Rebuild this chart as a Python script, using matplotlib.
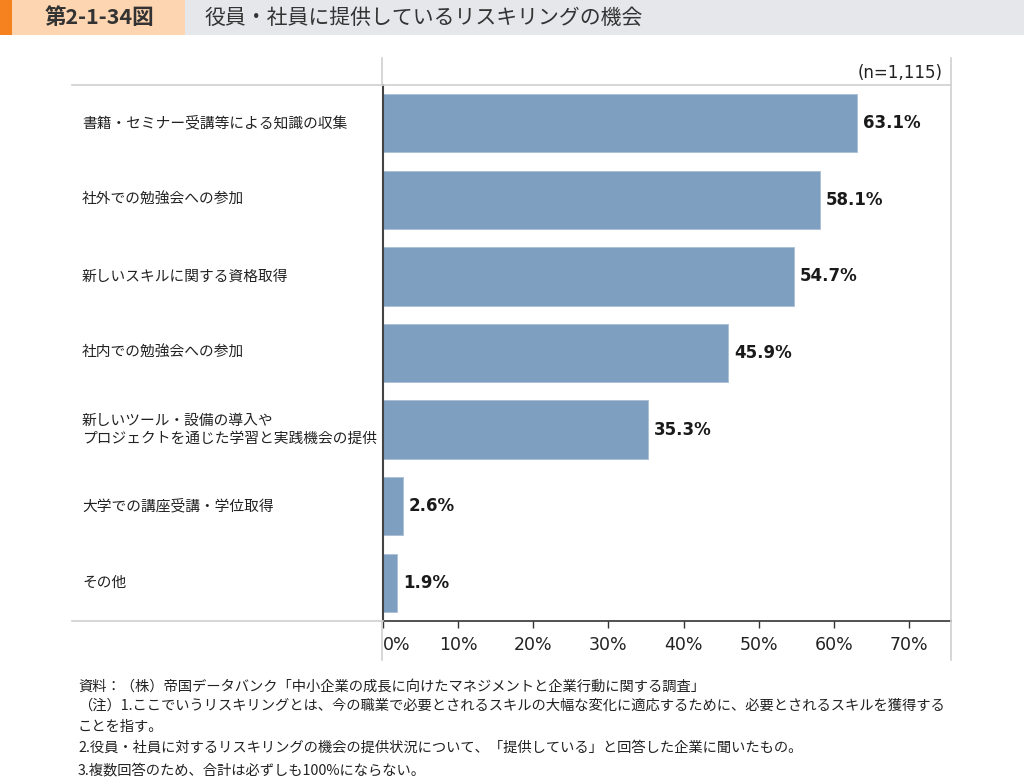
import matplotlib
matplotlib.use("Agg")
import matplotlib.pyplot as plt
from matplotlib.patches import Rectangle
from matplotlib.lines import Line2D
from matplotlib.ticker import FixedLocator, FuncFormatter

plt.rcParams['font.family'] = ['Noto Sans CJK JP', 'DejaVu Sans']

categories = [
    "書籍・セミナー受講等による知識の収集",
    "社外での勉強会への参加",
    "新しいスキルに関する資格取得",
    "社内での勉強会への参加",
    "新しいツール・設備の導入や\nプロジェクトを通じた学習と実践機会の提供",
    "大学での講座受講・学位取得",
    "その他",
]
values = [63.1, 58.1, 54.7, 45.9, 35.3, 2.6, 1.9]
xticks = [0, 10, 20, 30, 40, 50, 60, 70]

fig_title_no = "第2-1-34図"
fig_title = "役員・社員に提供しているリスキリングの機会"
n_note = "(n=1,115)"
notes = [
    "資料：（株）帝国データバンク「中小企業の成長に向けたマネジメントと企業行動に関する調査」",
    "（注）1.ここでいうリスキリングとは、今の職業で必要とされるスキルの大幅な変化に適応するために、必要とされるスキルを獲得する",
    "ことを指す。",
    "2.役員・社員に対するリスキリングの機会の提供状況について、「提供している」と回答した企業に聞いたもの。",
    "3.複数回答のため、合計は必ずしも100%にならない。",
]

W, H = 1024, 779
fig = plt.figure(figsize=(W / 100, H / 100), dpi=100)

def fx(px):
    return px / W

def fy(py):
    return 1 - py / H

# Header band
fig.patches.append(Rectangle((0, fy(35)), 1, 35 / H, transform=fig.transFigure,
                             facecolor="#e6e7eb", edgecolor="none", zorder=0))
fig.patches.append(Rectangle((0, fy(35)), fx(185), 35 / H, transform=fig.transFigure,
                             facecolor="#fdd5b0", edgecolor="none", zorder=1))
fig.patches.append(Rectangle((0, fy(35)), fx(12), 35 / H, transform=fig.transFigure,
                             facecolor="#f5821f", edgecolor="none", zorder=2))
fig.text(fx(45), fy(18), fig_title_no, fontsize=15.5, fontweight='bold', color="#333333",
         va='center', ha='left')
fig.text(fx(205), fy(18), fig_title, fontsize=15, color="#333333", va='center', ha='left')

# Axes
left, right, top, bottom = 383, 951, 85, 621
ax = fig.add_axes([fx(left), fy(bottom), (right - left) / W, (bottom - top) / H])
ypos = list(range(len(categories)))
ax.barh(ypos, values, height=0.76, color="#7f9fc0", edgecolor="#a9bfd6", linewidth=0.6, zorder=2)
ax.set_xlim(0, 75.6)
ax.set_ylim(len(categories) - 0.5, -0.5)

for y, v in zip(ypos, values):
    ax.text(v + 0.8, y, f"{v:.1f}%", va='center', ha='left', fontsize=12,
            fontweight='bold', family='DejaVu Sans', color="#1a1a1a")

ax.xaxis.set_major_locator(FixedLocator(xticks))
ax.xaxis.set_major_formatter(FuncFormatter(lambda v, p: f"{v:.0f}%"))
ax.tick_params(axis='x', direction='out', length=5, width=1, color="#333333",
               labelsize=12.5, labelcolor="#222222", pad=6)
for lab in ax.get_xticklabels():
    lab.set_family('DejaVu Sans')
ax.get_xticklabels()[0].set_ha('left')
ax.set_yticks([])
for s in ['top', 'right']:
    ax.spines[s].set_visible(False)
ax.spines['left'].set_color("#444444")
ax.spines['left'].set_linewidth(1.5)
ax.spines['bottom'].set_color("#333333")
ax.spines['bottom'].set_linewidth(1.2)
ax.set_facecolor('none')

# Category labels
blend = matplotlib.transforms.blended_transform_factory(fig.transFigure, ax.transData)
for y, c in zip(ypos, categories):
    ax.text(fx(82), y, c, transform=blend,
            ha='left', va='center', fontsize=10.6, color="#222222", linespacing=1.35)

# Frame lines
grey = "#d0d0d0"
fig.lines.append(Line2D([fx(72), fx(951)], [fy(85), fy(85)], transform=fig.transFigure,
                        color=grey, linewidth=1.2))
fig.lines.append(Line2D([fx(72), fx(383)], [fy(621), fy(621)], transform=fig.transFigure,
                        color=grey, linewidth=1.2))
fig.lines.append(Line2D([fx(382), fx(382)], [fy(58), fy(85)], transform=fig.transFigure,
                        color=grey, linewidth=1.2))
fig.lines.append(Line2D([fx(382), fx(382)], [fy(621), fy(660)], transform=fig.transFigure,
                        color=grey, linewidth=1.2))
fig.lines.append(Line2D([fx(951), fx(951)], [fy(58), fy(660)], transform=fig.transFigure,
                        color=grey, linewidth=1.2))

fig.text(fx(943), fy(73), n_note, ha='right', va='center', fontsize=12,
         family='DejaVu Sans', color="#222222")

# Notes
note_y = [687, 706, 727, 748, 770]
note_x = [78, 78, 78, 78, 78]
for t, x, y in zip(notes, note_x, note_y):
    fig.text(fx(x), fy(y), t, ha='left', va='center', fontsize=10.3, color="#222222")

fig.savefig("out.png", dpi=100)
